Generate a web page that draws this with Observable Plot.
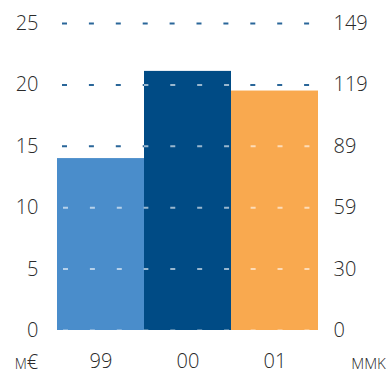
<!DOCTYPE html>
<html>
<head>
<meta charset="utf-8">
<script src="https://cdn.jsdelivr.net/npm/d3@7"></script>
<script src="https://cdn.jsdelivr.net/npm/@observablehq/plot@0.6"></script>
<style>
  html, body { margin: 0; padding: 0; background: #fff; }
  #chart { width: 392px; height: 372px; }
</style>
</head>
<body>
<div id="chart"></div>
<script>
const categories = ["99", "00", "01"];
const values = [14.0, 21.1, 19.5];
const barColors = ["#4a8dcb", "#004b85", "#f9a94f"];
const leftTicks = [0, 5, 10, 15, 20, 25];
const rightTickLabels = ["0", "30", "59", "89", "119", "149"];
const unitLeft = "m€";
const unitRight = "mmk";

const W = 392, H = 372, ML = 56, MR = 74, MT = 23, MB = 42;
const bw = (W - ML - MR) / categories.length;
const dash = "5,21.9";
const table = categories.map((c, i) => ({cat: c, value: values[i]}));

const overlays = categories.map((c, i) =>
  Plot.ruleY(leftTicks.filter(t => t <= values[i]), {
    y: d => d, x1: () => c, x2: () => c,
    stroke: "#ffffff", strokeOpacity: 0.6, strokeWidth: 2,
    strokeDasharray: dash, strokeDashoffset: i * bw - 6
  })
);

const FS = 20;
const TXT = "#2a2a2a";
const chart = Plot.plot({
  width: W, height: H,
  marginLeft: ML, marginRight: MR, marginTop: MT, marginBottom: MB,
  style: {fontFamily: "'Open Sans', sans-serif", fontSize: FS + "px", fontWeight: 300, color: TXT, background: "#fff"},
  x: {domain: categories, padding: 0},
  y: {domain: [0, 25]},
  color: {domain: categories, range: barColors},
  marks: [
    Plot.ruleY(leftTicks.filter(t => t > 0), {
      stroke: "#2a6699", strokeWidth: 2, strokeDasharray: dash, strokeDashoffset: -6
    }),
    Plot.barY(table, {x: "cat", y: "value", fill: "cat"}),
    ...overlays,
    Plot.axisY({anchor: "left", ticks: leftTicks, tickSize: 0, tickPadding: 18, fontSize: FS, fontWeight: 300, label: null}),
    Plot.axisY({anchor: "right", ticks: leftTicks, tickSize: 0, tickPadding: 15, fontSize: FS, fontWeight: 300, label: null,
      tickFormat: d => rightTickLabels[leftTicks.indexOf(d)]}),
    Plot.axisX({tickSize: 0, tickPadding: 23, fontSize: FS, fontWeight: 300, label: null}),
    Plot.text([unitLeft], {frameAnchor: "bottom-left", text: d => d, dx: -30, dy: 38,
      textAnchor: "middle", lineAnchor: "bottom",
      fontVariant: "small-caps", fontSize: 20, fontWeight: 300, fill: TXT, letterSpacing: 1}),
    Plot.text([unitRight], {frameAnchor: "bottom-right", text: d => d, dx: 50, dy: 38,
      textAnchor: "middle", lineAnchor: "bottom",
      fontVariant: "small-caps", fontSize: 22, fontWeight: 300, fill: TXT, letterSpacing: 3})
  ]
});
document.getElementById("chart").appendChild(chart);
</script>
</body>
</html>
